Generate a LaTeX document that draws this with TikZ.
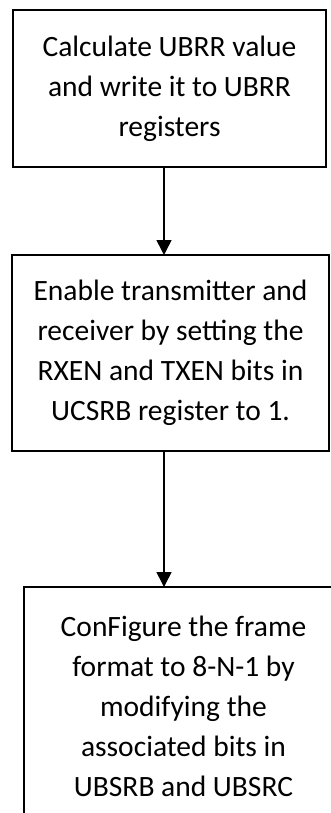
\documentclass[tikz,border=0pt]{standalone}
\usepackage{fontspec}
\setmainfont{Carlito}
\usetikzlibrary{arrows.meta}
\begin{document}
\begin{tikzpicture}[x=1pt,y=1pt,
  stepbox/.style={draw, rectangle, line width=1.6pt, inner sep=0pt, outer sep=0pt,
    align=center, font=\fontsize{29.5}{40}\selectfont},
  arr/.style={line width=1.6pt, -{Triangle[width=15pt,length=15pt]}}]
\useasboundingbox (0,0) rectangle (331,-813);
\clip (0,0) rectangle (331,-813);
% the three steps of the USART set-up
\node[stepbox, minimum width=313, minimum height=157] (b1) at (169.5,-88.5)
  {Calculate UBRR value\\and write it to UBRR\\registers};
\node[stepbox, minimum width=317, minimum height=196] (b2) at (170.5,-353)
  {Enable transmitter and\\receiver by setting the\\RXEN and TXEN bits in\\UCSRB register to 1.};
\node[stepbox, minimum width=319, minimum height=239] (b3) at (183.5,-706.5)
  {ConFigure the frame\\format to 8-N-1 by\\modifying the\\associated bits in\\UBSRB and UBSRC};
% connectors run left of the box centres
\coordinate (ax) at (164,0);
\draw[arr] (b1.south -| ax) -- (b2.north -| ax);
\draw[arr] (b2.south -| ax) -- (b3.north -| ax);
\end{tikzpicture}
\end{document}
